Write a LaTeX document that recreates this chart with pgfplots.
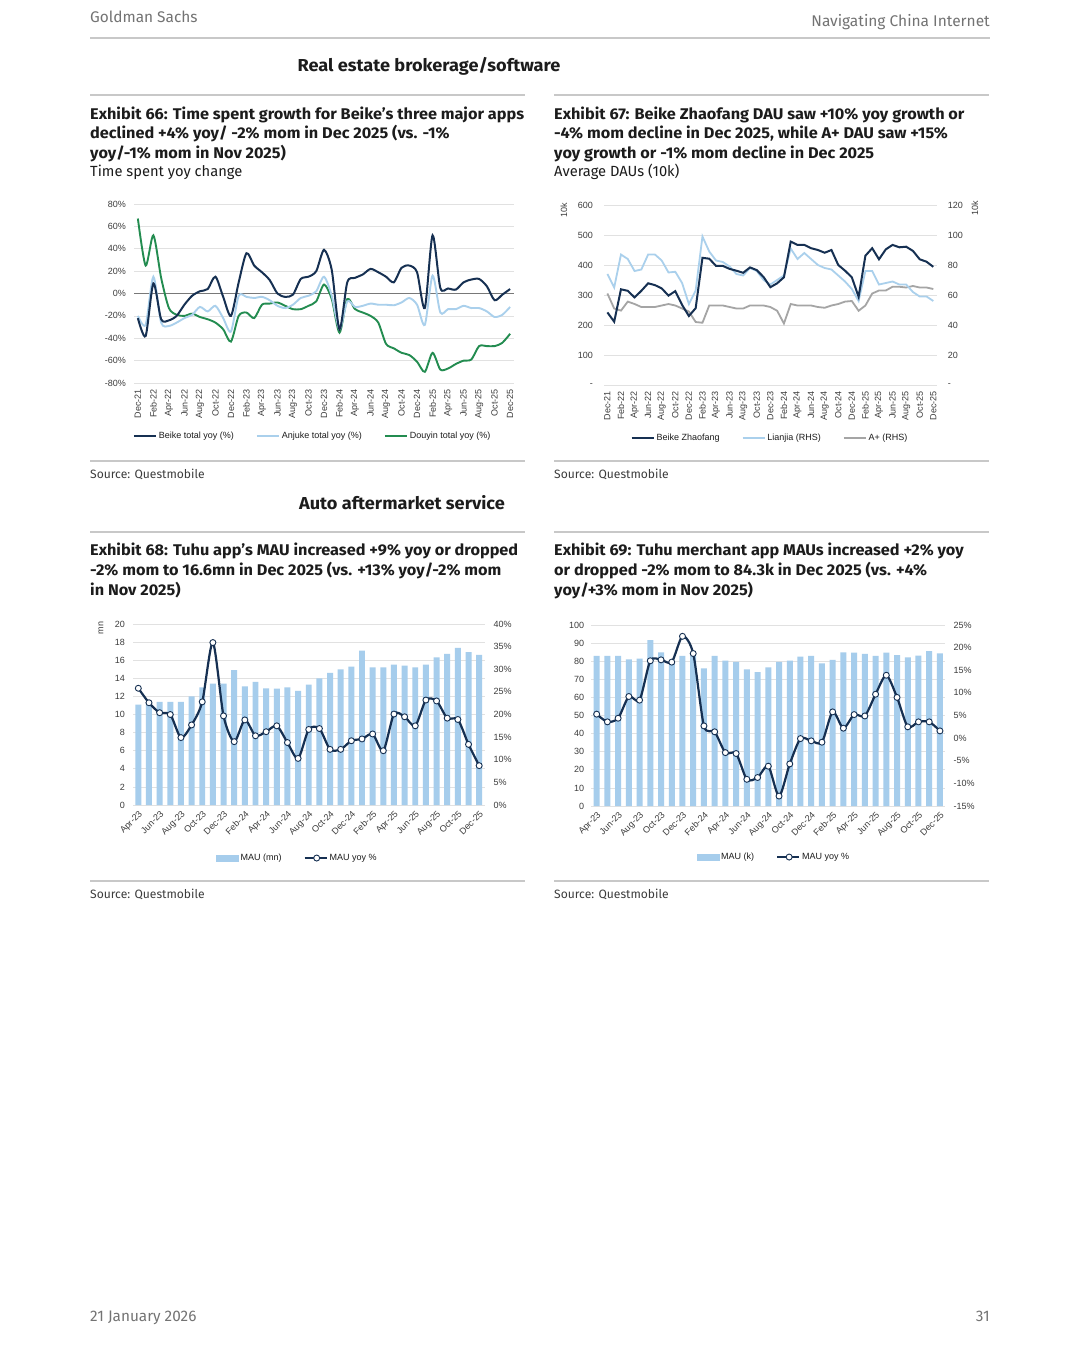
\documentclass[border=0pt]{standalone}
\usepackage{pgfplots}
\pgfplotsset{compat=1.18}
\usepackage{pgfplotstable}
\usepackage{fontspec}
\setmainfont{Liberation Sans}
\newfontfamily\gs{Fira Sans}
\newfontfamily\gsb[FakeStretch=1.05]{Fira Sans}

\definecolor{navy}{RGB}{22,48,82}
\definecolor{lblue}{RGB}{170,208,236}
\definecolor{dgreen}{RGB}{35,140,80}
\definecolor{agrey}{RGB}{165,165,165}
\definecolor{barblue}{RGB}{166,205,236}
\definecolor{rulec}{RGB}{200,200,200}
\definecolor{gridc}{RGB}{225,225,225}
\definecolor{zeroc}{RGB}{120,120,120}
\definecolor{txt}{RGB}{28,28,28}
\definecolor{hdr}{RGB}{115,115,115}
\definecolor{tickc}{RGB}{60,60,60}

% Exhibit 66: time spent yoy (%)
\pgfplotstableread{
i beike anjuke douyin
0 -22 -20 67
1 -38 -28 25
2 9 15 52
3 -23 -26 14
4 -24 -29 -13
5 -20 -26 -19
6 -10 -22 -20
7 -2 -19 -18
8 2 -12 -21
9 4 -16 -23
10 15 -11 -26
11 -3 -22 -32
12 -20 -34 -43
13 10 -2 -20
14 36 -3 -17
15 25 -4 -22
16 19 -3 -10
17 12 -6 -9
18 0 -11 -8
19 -3 -13 -11
20 -1 -10 -14
21 13 -4 -14
22 15 -2 -11
23 20 2 -7
24 39 15 8
25 21 -2 -5
26 -32 -32 -35
27 10 -7 -5
28 14 -12 -14
29 17 -11 -17
30 22 -9 -20
31 19 -10 -26
32 15 -10 -45
33 10 -10.5 -49
34 23 -8 -53
35 25 -4 -55
36 19 -10 -61
37 -13 -28 -70
38 52 16 -53
39 5 -17 -68
40 4.5 -14 -67
41 3.5 -14 -63
42 10 -11 -60
43 12.5 -13 -59
44 13 -13 -47
45 6.5 -16 -47
46 -6 -21 -47
47 -1 -19 -44
48 4 -12 -36
}\timespent

% Exhibit 67: DAU (10k); Lianjia and A+ on RHS
\pgfplotstableread{
i bz lianjia aplus
0 242 74 61
1 211 65 51
2 319 87 49.6
3 314 84 55.6
4 292 76 54
5 314 77 52
6 339 87 52
7 333 87 52
8 322 83 53
9 298 75 54
10 313 75.5 53
11 267 68 51
12 230 54 49
13 256 63 42
14 424 99 41.5
15 421 89 53
16 397 83 53
17 397 82 53
18 387 79 52
19 381 74 51
20 374 73 51
21 392 78 53
22 383 76 53
23 360 70 53
24 326 67 52
25 339 70 49.5
26 359 73 41
27 478 91 54
28 467 84 53
29 467 88 53
30 456 84 53
31 450 80 52
32 441 78 51.5
33 450 77 53
34 400 73 54
35 381 69 55.6
36 359 64 56
37 294 56 49.5
38 431 76 53
39 456 76 61
40 419 67 63
41 452 68 63
42 467 69 65.5
43 459 67 65.5
44 461 67 65
45 447 62 66
46 419 59 65
47 411 59 65
48 394 56 64
}\dau

% Exhibit 68: Tuhu app MAU (mn) and yoy (%)
\pgfplotstableread{
i mau yoy
0 11.1 25.8
1 11.3 22.6
2 11.4 20.4
3 11.4 20.0
4 11.4 14.9
5 12.0 17.7
6 13.0 22.8
7 13.4 35.9
8 13.4 19.7
9 14.9 14.0
10 13.1 18.8
11 13.6 15.3
12 12.9 16.2
13 12.85 17.5
14 13.0 13.8
15 12.6 10.3
16 13.3 16.7
17 14.0 16.9
18 14.6 12.3
19 15.0 12.3
20 15.3 14.2
21 17.05 14.6
22 15.2 15.7
23 15.2 12.0
24 15.5 20.1
25 15.4 19.5
26 15.2 17.5
27 15.5 23.2
28 16.3 23.0
29 16.7 19.2
30 17.35 18.9
31 16.9 13.4
32 16.6 8.7
}\tuhu

% Exhibit 69: Tuhu merchant app MAU (k) and yoy (%)
\pgfplotstableread{
i mau yoy
0 82.9 5.3
1 82.9 3.6
2 82.9 4.4
3 81.0 9.2
4 81.4 8.4
5 91.7 17.1
6 84.9 17.3
7 80.0 16.8
8 83.0 22.5
9 83.0 18.7
10 76.1 2.7
11 82.9 1.4
12 80.3 -3.2
13 79.7 -3.4
14 75.5 -9.1
15 74.0 -8.7
16 76.6 -6.2
17 79.7 -12.8
18 80.3 -5.7
19 82.5 -0.1
20 82.9 -0.6
21 78.8 -0.9
22 80.7 5.8
23 84.9 2.2
24 84.7 5.2
25 84.0 4.9
26 82.9 9.7
27 84.7 13.9
28 83.4 9.0
29 82.1 2.5
30 83.1 3.6
31 85.6 3.6
32 84.3 1.6
}\merchant

\pgfplotsset{
  gs/.style={
    scale only axis,
    axis line style={draw=none},
    tick style={draw=none},
    /pgf/number format/assume math mode=true,
    tick label style={font=\fontsize{9}{10}\selectfont, text=tickc, inner sep=0pt},
    legend style={draw=none, fill=none, font=\fontsize{9}{10}\selectfont, text=txt,
      legend columns=-1, anchor=center,
      /tikz/every even column/.append style={column sep=20pt}},
    legend cell align=left,
  },
  grd/.style={ymajorgrids, major grid style={draw=gridc, line width=0.7pt}},
  ln/.style={legend image code/.code={\draw[##1] (0pt,0pt) -- (22pt,0pt);}},
  mk/.style={mark=*, mark size=3pt, mark options={fill=white, draw=navy, line width=0.9pt}},
}

\begin{document}
\begin{tikzpicture}[x=1pt, y=-1pt]
\fill[white] (0,0) rectangle (1080,1369);

% page header and frame text
\node[anchor=base west, inner sep=0, text=hdr, font=\gs\fontsize{15.4}{18}\selectfont] at (90,22) {Goldman Sachs};
\node[anchor=base east, inner sep=0, text=hdr, font=\gs\fontsize{15.5}{18}\selectfont] at (990,26) {Navigating China Internet};
\draw[rulec, line width=1.6pt] (90,38) -- (990,38);
\node[anchor=base, inner sep=0, text=txt, font=\gsb\bfseries\fontsize{17.3}{20}\selectfont] at (429,71.5) {Real estate brokerage/software};
\draw[rulec, line width=1.2pt] (90,95) -- (525,95);
\draw[rulec, line width=1.2pt] (554,95) -- (989,95);

\begin{scope}[every node/.style={anchor=base west, inner sep=0, text=txt, font=\gsb\bfseries\fontsize{15.5}{19}\selectfont}]
\node at (90,119) {Exhibit 66: Time spent growth for Beike’s three major apps};
\node at (90,138.5) {declined +4\% yoy/ -2\% mom in Dec 2025 (vs. -1\%};
\node at (90,158) {yoy/-1\% mom in Nov 2025)};
\node at (554,119) {Exhibit 67: Beike Zhaofang DAU saw +10\% yoy growth or};
\node at (554,138.5) {-4\% mom decline in Dec 2025, while A+ DAU saw +15\%};
\node at (554,158) {yoy growth or -1\% mom decline in Dec 2025};
\node at (90,555.7) {Exhibit 68: Tuhu app’s MAU increased +9\% yoy or dropped};
\node at (90,575.5) {-2\% mom to 16.6mn in Dec 2025 (vs. +13\% yoy/-2\% mom};
\node at (90,595) {in Nov 2025)};
\node at (554,555.7) {Exhibit 69: Tuhu merchant app MAUs increased +2\% yoy};
\node at (554,575.5) {or dropped -2\% mom to 84.3k in Dec 2025 (vs. +4\%};
\node at (554,595) {yoy/+3\% mom in Nov 2025)};
\end{scope}
\begin{scope}[every node/.style={anchor=base west, inner sep=0, text=txt, font=\gs\fontsize{14.7}{18}\selectfont}]
\node at (90,176) {Time spent yoy change};
\node at (554,176) {Average DAUs (10k)};
\end{scope}

\draw[rulec, line width=1.2pt] (90,461) -- (525,461);
\draw[rulec, line width=1.2pt] (554,461) -- (989,461);
\begin{scope}[every node/.style={anchor=base west, inner sep=0, text=tickc, font=\gs\fontsize{12.1}{15}\selectfont}]
\node at (90,478) {Source: Questmobile};
\node at (554,478) {Source: Questmobile};
\node at (90,898) {Source: Questmobile};
\node at (554,898) {Source: Questmobile};
\end{scope}
\node[anchor=base, inner sep=0, text=txt, font=\gsb\bfseries\fontsize{17.3}{20}\selectfont] at (402,509) {Auto aftermarket service};
\draw[rulec, line width=1.2pt] (90,532) -- (525,532);
\draw[rulec, line width=1.2pt] (554,532) -- (989,532);
\draw[rulec, line width=1.2pt] (90,881) -- (525,881);
\draw[rulec, line width=1.2pt] (554,881) -- (989,881);

\node[anchor=base west, inner sep=0, text=hdr, font=\gs\fontsize{15.3}{18}\selectfont] at (90,1321) {21 January 2026};
\node[anchor=base east, inner sep=0, text=hdr, font=\gs\fontsize{15.3}{18}\selectfont] at (990,1321) {31};

% axis unit labels
\node[rotate=90, inner sep=0, text=tickc, font=\fontsize{9}{10}\selectfont] at (564,210) {10k};
\node[rotate=90, inner sep=0, text=tickc, font=\fontsize{9}{10}\selectfont] at (975,208) {10k};
\node[rotate=90, inner sep=0, text=tickc, font=\fontsize{9}{10}\selectfont] at (101,628) {mn};

% ---------- Exhibit 66 ----------
\begin{axis}[gs, grd, ln, at={(134pt,-204pt)}, anchor=north west,
  width=380pt, height=179pt,
  xmin=-0.5, xmax=48.5, ymin=-80, ymax=80,
  ytick={-80,-60,...,80},
  yticklabels={-80\%,-60\%,-40\%,-20\%,0\%,20\%,40\%,60\%,80\%},
  yticklabel shift=8pt,
  xtick={0,2,...,48},
  xticklabels={Dec-21,Feb-22,Apr-22,Jun-22,Aug-22,Oct-22,Dec-22,Feb-23,Apr-23,Jun-23,Aug-23,Oct-23,Dec-23,Feb-24,Apr-24,Jun-24,Aug-24,Oct-24,Dec-24,Feb-25,Apr-25,Jun-25,Aug-25,Oct-25,Dec-25},
  xticklabel style={rotate=90, anchor=east},
  xticklabel shift=6pt,
  legend style={at={(0.47,-0.296)}},
  reverse legend,
]
\draw[zeroc, line width=1.1pt] (axis cs:-0.5,0) -- (axis cs:48.5,0);
\addplot[dgreen, line width=1.9pt, smooth, tension=0.45, no markers] table[x=i, y=douyin] {\timespent};
\addlegendentry{Douyin total yoy (\%)}
\addplot[lblue, line width=1.9pt, smooth, tension=0.45, no markers] table[x=i, y=anjuke] {\timespent};
\addlegendentry{Anjuke total yoy (\%)}
\addplot[navy, line width=2pt, smooth, tension=0.45, no markers] table[x=i, y=beike] {\timespent};
\addlegendentry{Beike total yoy (\%)}
\end{axis}

% ---------- Exhibit 67 ----------
\begin{axis}[gs, grd, at={(604pt,-205pt)}, anchor=north west,
  width=332.7pt, height=180pt,
  xmin=-0.5, xmax=48.5, ymin=0, ymax=120,
  axis x line=none, axis y line*=right,
  ytick={0,20,...,120}, yticklabels={-,20,40,60,80,100,120},
  yticklabel style={anchor=west}, yticklabel shift=11pt,
]
\addplot[agrey, line width=1.8pt, no markers] table[x=i, y=aplus] {\dau};
\addplot[lblue, line width=1.8pt, no markers] table[x=i, y=lianjia] {\dau};
\end{axis}
\begin{axis}[gs, ln, at={(604pt,-205pt)}, anchor=north west,
  width=332.7pt, height=180pt,
  xmin=-0.5, xmax=48.5, ymin=0, ymax=600,
  axis y line*=left,
  ytick={0,100,...,600}, yticklabels={-,100,200,300,400,500,600},
  yticklabel shift=11pt,
  xtick={0,2,...,48},
  xticklabels={Dec-21,Feb-22,Apr-22,Jun-22,Aug-22,Oct-22,Dec-22,Feb-23,Apr-23,Jun-23,Aug-23,Oct-23,Dec-23,Feb-24,Apr-24,Jun-24,Aug-24,Oct-24,Dec-24,Feb-25,Apr-25,Jun-25,Aug-25,Oct-25,Dec-25},
  xticklabel style={rotate=90, anchor=east},
  xticklabel shift=6pt,
  legend style={at={(0.499,-0.294)}},
]
\addplot[navy, line width=2pt, no markers] table[x=i, y=bz] {\dau};
\addlegendentry{Beike Zhaofang}
\addlegendimage{lblue, line width=1.8pt}
\addlegendentry{Lianjia (RHS)}
\addlegendimage{agrey, line width=1.8pt}
\addlegendentry{A+ (RHS)}
\end{axis}

% ---------- Exhibit 68 ----------
\begin{axis}[gs, grd, at={(133pt,-624pt)}, anchor=north west,
  width=351.5pt, height=181pt,
  xmin=-0.5, xmax=32.5, ymin=0, ymax=20,
  axis y line*=left,
  ytick={0,2,...,20}, yticklabel shift=8pt,
  xtick={0,2,...,32},
  xticklabels={Apr-23,Jun-23,Aug-23,Oct-23,Dec-23,Feb-24,Apr-24,Jun-24,Aug-24,Oct-24,Dec-24,Feb-25,Apr-25,Jun-25,Aug-25,Oct-25,Dec-25},
  xticklabel style={rotate=45, anchor=north east},
  xticklabel shift=5pt,
]
\addplot[ybar, bar width=0.56, fill=barblue, draw=none] table[x=i, y=mau] {\tuhu};
\end{axis}
\begin{axis}[gs, at={(133pt,-624pt)}, anchor=north west,
  width=351.5pt, height=181pt,
  xmin=-0.5, xmax=32.5, ymin=0, ymax=40,
  axis x line=none, axis y line*=right,
  ytick={0,5,...,40},
  yticklabels={0\%,5\%,10\%,15\%,20\%,25\%,30\%,35\%,40\%},
  yticklabel style={anchor=west}, yticklabel shift=9pt,
  legend style={at={(0.468,-0.293)}},
]
\addlegendimage{legend image code/.code={\fill[barblue] (0pt,-3pt) rectangle (22pt,3pt);}}
\addlegendentry{MAU (mn)}
\addplot[navy, line width=2.2pt, smooth, tension=0.45, mk,
  legend image code/.code={\draw[navy, line width=2pt] (0pt,0pt) -- (22pt,0pt);
    \draw[navy, fill=white, line width=0.9pt] (12pt,0pt) circle (3pt);}]
  table[x=i, y=yoy] {\tuhu};
\addlegendentry{MAU yoy \%}
\end{axis}

% ---------- Exhibit 69 ----------
\begin{axis}[gs, grd, at={(591.3pt,-625pt)}, anchor=north west,
  width=354pt, height=181pt,
  xmin=-0.5, xmax=32.5, ymin=0, ymax=100,
  axis y line*=left,
  ytick={0,10,...,100}, yticklabel shift=7pt,
  xtick={0,2,...,32},
  xticklabels={Apr-23,Jun-23,Aug-23,Oct-23,Dec-23,Feb-24,Apr-24,Jun-24,Aug-24,Oct-24,Dec-24,Feb-25,Apr-25,Jun-25,Aug-25,Oct-25,Dec-25},
  xticklabel style={rotate=45, anchor=north east},
  xticklabel shift=5pt,
]
\addplot[ybar, bar width=0.56, fill=barblue, draw=none] table[x=i, y=mau] {\merchant};
\end{axis}
\begin{axis}[gs, at={(591.3pt,-625pt)}, anchor=north west,
  width=354pt, height=181pt,
  xmin=-0.5, xmax=32.5, ymin=-15, ymax=25,
  axis x line=none, axis y line*=right,
  ytick={-15,-10,...,25},
  yticklabels={-15\%,-10\%,-5\%,0\%,5\%,10\%,15\%,20\%,25\%},
  yticklabel style={anchor=west}, yticklabel shift=8pt,
  legend style={at={(0.516,-0.282)}},
]
\addlegendimage{legend image code/.code={\fill[barblue] (0pt,-3pt) rectangle (22pt,3pt);}}
\addlegendentry{MAU (k)}
\addplot[navy, line width=2.2pt, smooth, tension=0.45, mk,
  legend image code/.code={\draw[navy, line width=2pt] (0pt,0pt) -- (22pt,0pt);
    \draw[navy, fill=white, line width=0.9pt] (12pt,0pt) circle (3pt);}]
  table[x=i, y=yoy] {\merchant};
\addlegendentry{MAU yoy \%}
\end{axis}
\end{tikzpicture}
\end{document}
